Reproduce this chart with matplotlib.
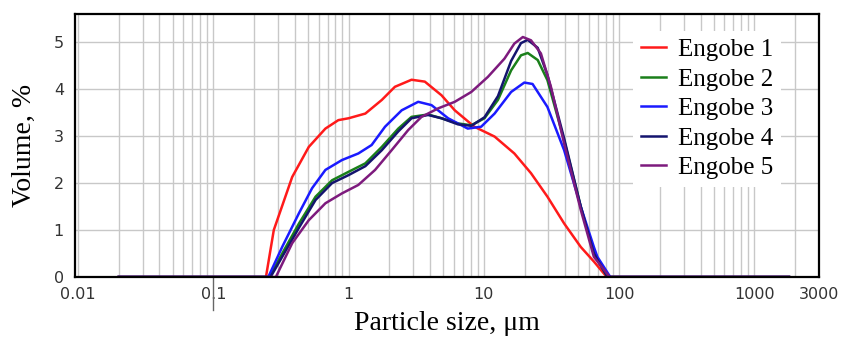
import matplotlib
matplotlib.use("Agg")
import matplotlib.pyplot as plt
import matplotlib.transforms as mtransforms

# particle size (um) and volume (%)
x_e1 = [0.02, 0.245, 0.28, 0.383, 0.508, 0.674, 0.84, 1.0, 1.33, 1.76, 2.2, 2.92, 3.66,
        4.86, 6.09, 8.5, 12.0, 16.8, 22.3, 29.5, 39.2, 52.0, 65.0, 81.0, 1800]
y_e1 = [0, 0, 1.0, 2.13, 2.77, 3.16, 3.34, 3.38, 3.48, 3.77, 4.05, 4.2, 4.16,
        3.87, 3.55, 3.2, 2.99, 2.63, 2.21, 1.71, 1.14, 0.64, 0.33, 0.0, 0]

x_e2 = [0.02, 0.26, 0.323, 0.43, 0.57, 0.755, 1.0, 1.33, 1.76, 2.33, 2.92, 3.87, 4.86,
        6.44, 8.07, 10.1, 12.7, 15.9, 18.8, 21.1, 25.0, 29.5, 39.2, 52.0, 65.0, 82.0, 1800]
y_e2 = [0, 0, 0.5, 1.14, 1.71, 2.06, 2.24, 2.42, 2.77, 3.16, 3.41, 3.46, 3.38,
        3.27, 3.23, 3.38, 3.77, 4.4, 4.72, 4.77, 4.62, 4.19, 2.91, 1.5, 0.5, 0.0, 0]

x_e3 = [0.02, 0.255, 0.323, 0.43, 0.537, 0.674, 0.893, 1.18, 1.48, 1.86, 2.47, 3.27, 4.1,
        5.44, 7.6, 9.55, 12.0, 15.9, 19.9, 22.9, 29.5, 39.2, 52.0, 65.0, 69.0, 86.0, 1800]
y_e3 = [0, 0, 0.64, 1.36, 1.89, 2.28, 2.49, 2.63, 2.81, 3.2, 3.55, 3.73, 3.66,
        3.38, 3.16, 3.2, 3.48, 3.94, 4.14, 4.11, 3.62, 2.7, 1.5, 0.64, 0.43, 0.0, 0]

x_e4 = [0.02, 0.265, 0.323, 0.43, 0.57, 0.755, 1.0, 1.33, 1.76, 2.33, 2.92, 3.87, 4.86,
        6.44, 8.07, 10.1, 12.7, 15.9, 18.8, 21.1, 25.0, 29.5, 39.2, 52.0, 65.0, 82.0, 1800]
y_e4 = [0, 0, 0.43, 1.05, 1.64, 2.0, 2.17, 2.36, 2.7, 3.1, 3.38, 3.45, 3.38,
        3.25, 3.22, 3.4, 3.85, 4.6, 4.98, 5.05, 4.88, 4.3, 2.95, 1.5, 0.5, 0.0, 0]

x_e5 = [0.02, 0.29, 0.383, 0.508, 0.674, 0.893, 1.18, 1.57, 2.08, 2.76, 3.46, 4.59, 6.09,
        8.07, 10.7, 14.2, 16.8, 19.4, 22.3, 26.4, 31.3, 39.2, 52.0, 65.0, 85.0, 1800]
y_e5 = [0, 0, 0.72, 1.21, 1.57, 1.78, 1.96, 2.28, 2.7, 3.13, 3.41, 3.59, 3.73,
        3.94, 4.26, 4.65, 4.97, 5.11, 5.04, 4.76, 4.05, 2.84, 1.43, 0.43, 0.0, 0]

labels = ["Engobe 1", "Engobe 2", "Engobe 3", "Engobe 4", "Engobe 5"]
colors = ["#ff1a1a", "#1a7f1a", "#1a1aff", "#14146e", "#7d1a7d"]

xticks = [0.01, 0.1, 1, 10, 100, 1000, 3000]
xticklabels = ["0.01", "0.1", "1", "10", "100", "1000", "3000"]
yticks = [0, 1, 2, 3, 4, 5]

fig = plt.figure(figsize=(8.44, 3.4), dpi=100)
ax = fig.add_axes([75 / 844, 63 / 340, 744 / 844, 263 / 340])

series = [(x_e1, y_e1), (x_e2, y_e2), (x_e3, y_e3), (x_e4, y_e4), (x_e5, y_e5)]
for (xs, ys), lab, col in zip(series, labels, colors):
    ax.plot(xs, ys, color=col, lw=1.8, label=lab)

ax.set_xscale("log")
ax.set_xlim(0.0095, 3000)
ax.set_ylim(0, 5.6)
ax.set_xticks(xticks)
ax.set_xticklabels(xticklabels)
ax.set_yticks(yticks)
ax.tick_params(which="both", length=0, labelsize=11.5, labelcolor="#333333")
ax.tick_params(axis="x", pad=7)
ax.tick_params(axis="y", pad=8)

ax.grid(True, which="both", color="#c8c8c8", lw=1.0)
ax.set_axisbelow(True)
for s in ax.spines.values():
    s.set_linewidth(1.6)
    s.set_color("black")

# little stray tick under 0.1, as in the original
trans = mtransforms.blended_transform_factory(ax.transData, ax.transAxes)
ax.plot([0.1, 0.1], [0, -0.125], transform=trans, color="#666666", lw=1, clip_on=False)

ax.set_xlabel("Particle size, \u03bcm", family="Liberation Serif", fontsize=20, labelpad=7)
ax.set_ylabel("Volume, %", family="Liberation Serif", fontsize=20, labelpad=12)

leg = ax.legend(loc="upper left", bbox_to_anchor=(0.75, 0.935), prop={"family": "Liberation Serif", "size": 18},
                frameon=True, fancybox=False, edgecolor="none", facecolor="white", framealpha=1,
                handlelength=1.0, handletextpad=0.5, labelspacing=0.28, borderpad=0.3, borderaxespad=0)

fig.savefig("out.png", dpi=100)
